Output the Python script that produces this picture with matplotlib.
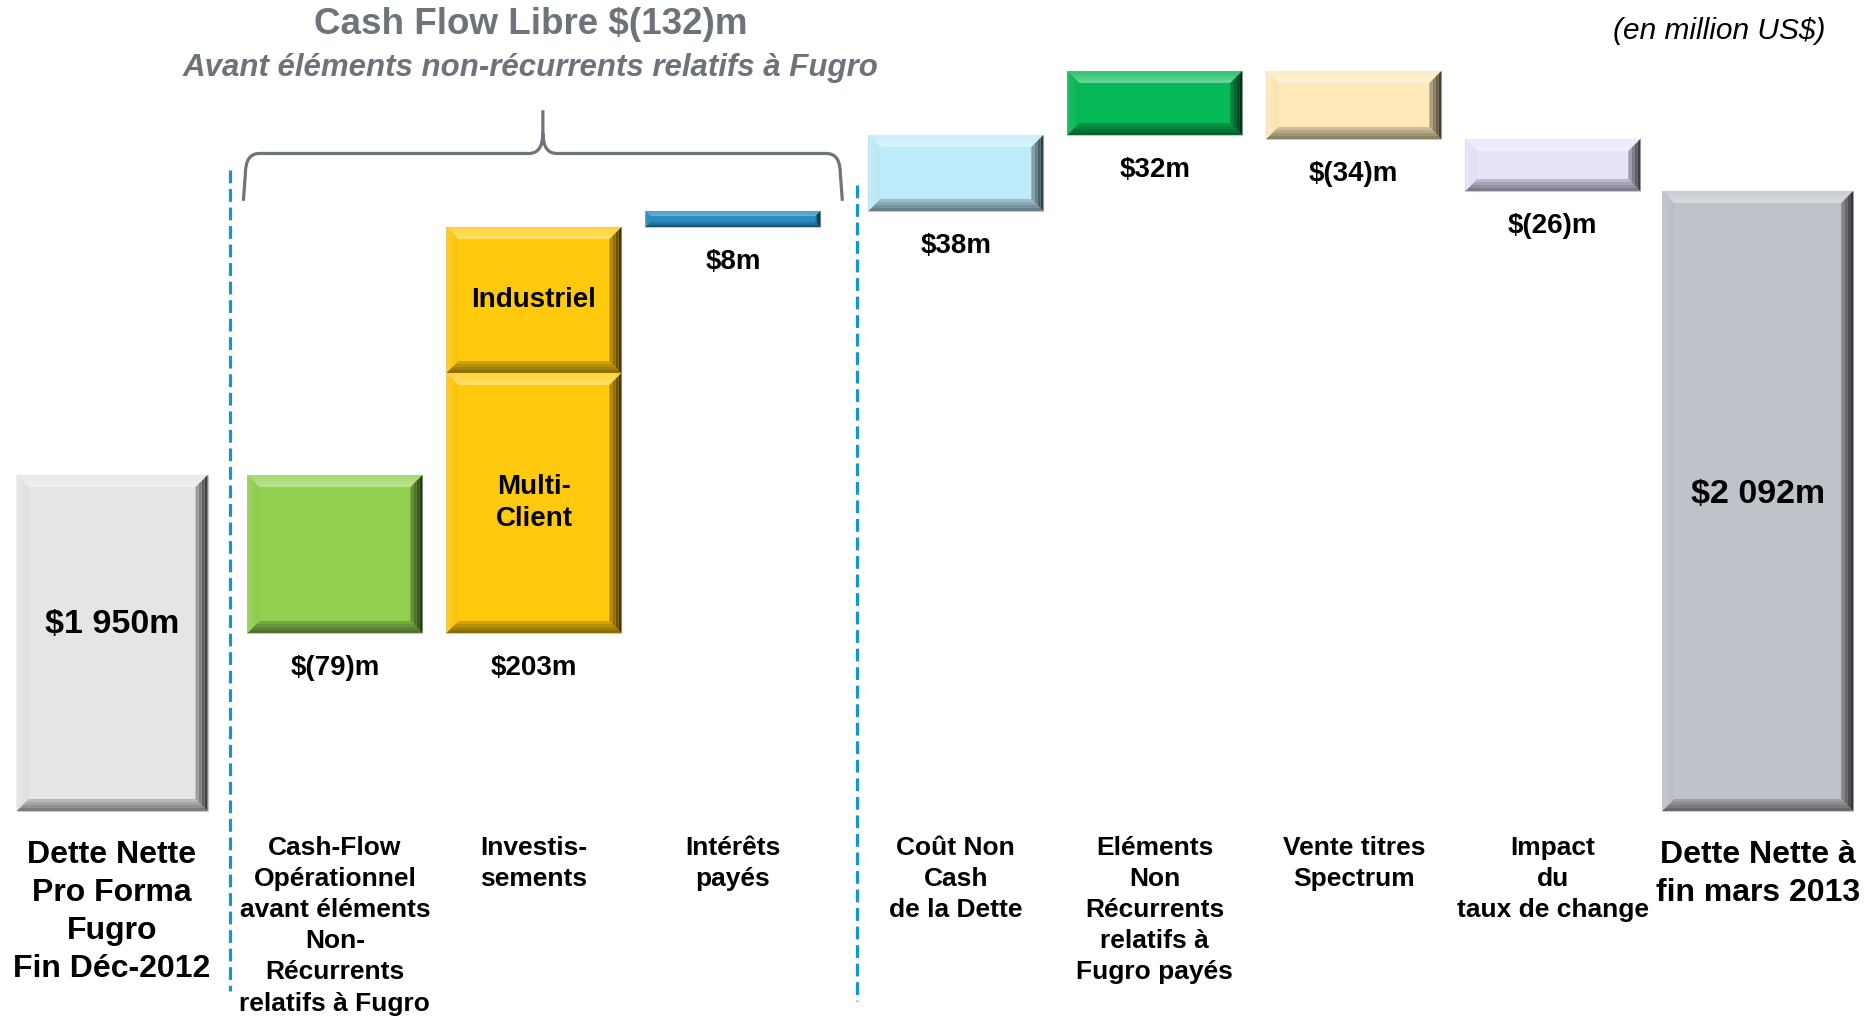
import matplotlib
matplotlib.use("Agg")
import matplotlib.pyplot as plt
import matplotlib.colors as mcolors
import matplotlib.transforms as mtransforms
from matplotlib import font_manager
from matplotlib.patches import Polygon, PathPatch
from matplotlib.path import Path
import numpy as np

# ---- data (million US$) ----
categories = [
    "Dette Nette\nPro Forma\nFugro\nFin Déc-2012",
    "Cash-Flow\nOpérationnel\navant éléments\nNon-\nRécurrents\nrelatifs à Fugro",
    "Investis-\nsements",
    "Intérêts\npayés",
    "Coût Non\nCash\nde la Dette",
    "Eléments\nNon\nRécurrents\nrelatifs à\nFugro payés",
    "Vente titres\nSpectrum",
    "Impact\ndu\ntaux de change",
    "Dette Nette à\nfin mars 2013",
]
start_debt = 1950
movements = [-79, 203, 8, 38, 32, -34, -26]
end_debt = 2092
invest_multiclient = 130   # estimated split of the 203
invest_industriel = 73
bar_colors = ['#E5E5E5', '#92D050', '#FFC90E', '#2A8DBF', '#BEEBFA',
              '#07B857', '#FFE9B9', '#E9E3FA', '#BEC2C9']

installed = {f.name for f in font_manager.fontManager.ttflist}
narrow = 'Liberation Sans Narrow' if 'Liberation Sans Narrow' in installed else 'Liberation Sans'
plt.rcParams['font.family'] = [narrow, 'DejaVu Sans']


def fmt_move(v):
    return f"${v}m" if v >= 0 else f"$({-v})m"


def fmt_total(v):
    return "$" + f"{v:,}".replace(",", " ") + "m"


# truncated axis, like the slide
axis_floor = 1782
sep_gap = 0.12           # extra room where the dashed separators sit
seps_before = [0, 1, 1, 1, 2, 2, 2, 2, 2]
x = np.arange(len(categories)) + sep_gap * np.array(seps_before)
x[-1] += 0.03            # total bar is a little wider

fig = plt.figure(figsize=(18.68, 10.30), dpi=100)
ax = fig.add_axes([0, 0, 1, 1])
ax.set_xlim(-0.563, 8.824)
ax.set_ylim(axis_floor - 109.5, axis_floor + 405.5)
ax.axis('off')

p0 = ax.transData.transform((0, 0))
p1 = ax.transData.transform((1, 1))
sx, sy = p1[0] - p0[0], p1[1] - p0[1]


def bevel_bar(xc, bottom, height, width, color, d=12, nb=4):
    ax.bar(xc, height, width, bottom=bottom, color=color, edgecolor='#C8C8C8',
           linewidth=0.8, zorder=2)
    d = min(d, 0.3 * height * sy)
    dx, dy = d / sx, d / sy
    x0, x1 = xc - width / 2, xc + width / 2
    y0, y1 = bottom, bottom + height
    base = np.array(mcolors.to_rgb(color))
    white = np.ones(3)
    # (outer colour, inner colour) per face
    top_c = (base + (white - base) * 0.15, base + (white - base) * 0.4)
    bot_c = (base * 0.5, base * 0.85)
    left_c = (base + (white - base) * 0.1, base * 0.97)
    right_c = (base * 0.2, base * 0.75)
    for k in range(nb):
        t0, t1 = k / nb, (k + 1) / nb
        f = (k + 0.5) / nb
        faces = [
            ([(x0 + t0 * dx, y1 - t0 * dy), (x1 - t0 * dx, y1 - t0 * dy),
              (x1 - t1 * dx, y1 - t1 * dy), (x0 + t1 * dx, y1 - t1 * dy)], top_c),
            ([(x0 + t0 * dx, y0 + t0 * dy), (x1 - t0 * dx, y0 + t0 * dy),
              (x1 - t1 * dx, y0 + t1 * dy), (x0 + t1 * dx, y0 + t1 * dy)], bot_c),
            ([(x0 + t0 * dx, y0 + t0 * dy), (x0 + t0 * dx, y1 - t0 * dy),
              (x0 + t1 * dx, y1 - t1 * dy), (x0 + t1 * dx, y0 + t1 * dy)], left_c),
            ([(x1 - t0 * dx, y0 + t0 * dy), (x1 - t0 * dx, y1 - t0 * dy),
              (x1 - t1 * dx, y1 - t1 * dy), (x1 - t1 * dx, y0 + t1 * dy)], right_c),
        ]
        for pts, (c_out, c_in) in faces:
            c = c_out * (1 - f) + c_in * f
            ax.add_patch(Polygon(pts, closed=True, facecolor=np.clip(c, 0, 1),
                                 edgecolor='none', zorder=3))


# waterfall
running = start_debt
bottoms, heights = [], []
for v in movements:
    bottoms.append(min(running, running + v))
    heights.append(abs(v))
    running += v

lbl_off = -25  # points below the bar
wide, narrow_w = 0.96, 0.88

# first / last totals
bevel_bar(x[0], axis_floor, start_debt - axis_floor, wide, bar_colors[0])
ax.text(x[0], (start_debt + axis_floor) / 2 + 9, fmt_total(start_debt), ha='center', va='center',
        fontsize=24.5, fontweight='bold', zorder=5)
bevel_bar(x[-1], axis_floor, end_debt - axis_floor, wide, bar_colors[-1])
ax.text(x[-1], (end_debt + axis_floor) / 2 + 3, fmt_total(end_debt), ha='center', va='center',
        fontsize=24.5, fontweight='bold', zorder=5)

for i, (v, b, h) in enumerate(zip(movements, bottoms, heights), start=1):
    if i == 2:
        bevel_bar(x[i], b, invest_multiclient, narrow_w, bar_colors[i])
        bevel_bar(x[i], b + invest_multiclient, invest_industriel, narrow_w, bar_colors[i])
        ax.text(x[i], b + invest_multiclient / 2, "Multi-\nClient", ha='center', va='center',
                fontsize=20, fontweight='bold', linespacing=1.3, zorder=5)
        ax.text(x[i], b + invest_multiclient + invest_industriel / 2, "Industriel",
                ha='center', va='center', fontsize=20, fontweight='bold', zorder=5)
    else:
        bevel_bar(x[i], b, h, narrow_w, bar_colors[i], d=12 if h > 20 else 8)
    ax.annotate(fmt_move(v), (x[i], b), xytext=(0, lbl_off), textcoords='offset points',
                ha='center', va='center', fontsize=20, fontweight='bold')

blend = mtransforms.blended_transform_factory(ax.transData, ax.transAxes)

# category labels
for i, cat in enumerate(categories):
    big = i in (0, len(categories) - 1)
    ax.text(x[i], 0.184 if big else 0.188, cat, transform=blend,
            ha='center', va='top', fontsize=23 if big else 19, fontweight='bold',
            linespacing=1.34 if big else 1.37)

# dashed separators
sep1 = (x[0] + x[1]) / 2 + 0.035
sep2 = (x[3] + x[4]) / 2 + 0.065
ax.plot([sep1, sep1], [0.835, 0.038], transform=blend, color='#1593D2', lw=2.3,
        linestyle=(0, (4, 1.8)))
ax.plot([sep2, sep2], [0.82, 0.028], transform=blend, color='#1593D2', lw=2.3,
        linestyle=(0, (4, 1.8)))

# brace over the free cash flow items
bx0, bx1 = x[1] - 0.45, x[3] + 0.54
bxm = (bx0 + bx1) / 2
yt, yb, yp = 0.805, 0.851, 0.893
r = 0.07
verts = [(bx0 - 0.01, yt), (bx0, yb - 0.02), (bx0, yb), (bx0 + r, yb),
         (bxm - r, yb), (bxm, yb), (bxm, yb + 0.02), (bxm, yp),
         (bxm, yb + 0.02), (bxm, yb), (bxm + r, yb),
         (bx1 - r, yb), (bx1, yb), (bx1, yb - 0.02), (bx1 + 0.01, yt)]
codes = [Path.MOVETO, Path.LINETO, Path.CURVE3, Path.CURVE3,
         Path.LINETO, Path.CURVE3, Path.CURVE3, Path.LINETO,
         Path.MOVETO, Path.CURVE3, Path.CURVE3,
         Path.LINETO, Path.CURVE3, Path.CURVE3, Path.LINETO]
ax.add_patch(PathPatch(Path(verts, codes), transform=blend, facecolor='none',
                       edgecolor='#6E747B', lw=2.3))

# titles
ax.text(0.284, 0.976, "Cash Flow Libre $(132)m", transform=ax.transAxes, ha='center', va='center',
        fontsize=26.5, fontweight='bold', color='#6D737A')
ax.text(0.284, 0.934, "Avant éléments non-récurrents relatifs à Fugro", transform=ax.transAxes,
        ha='center', va='center', fontsize=22.5, fontweight='bold', fontstyle='italic', color='#6D737A')
ax.text(0.9775, 0.970, "(en million US$)", transform=ax.transAxes, ha='right', va='center',
        fontsize=21.5, fontstyle='italic', color='black')

fig.savefig('out.png', dpi=100)
